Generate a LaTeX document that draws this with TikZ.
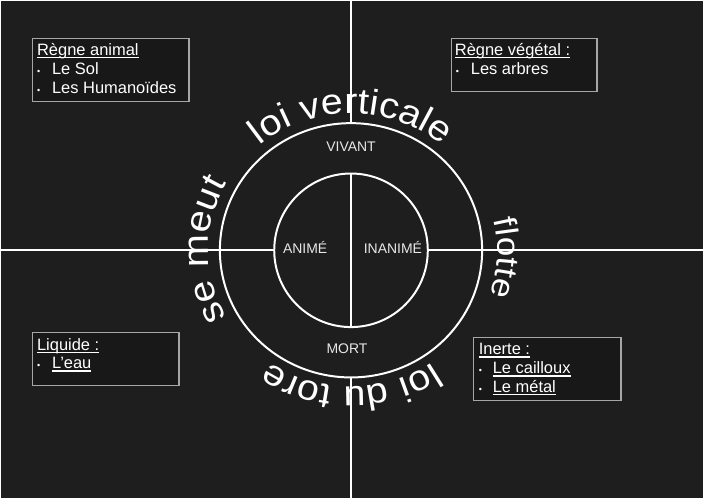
\documentclass[tikz,border=0pt]{standalone}
\usepackage{fontspec}
\setmainfont{Liberation Sans}
\newfontfamily\arcfont[FakeStretch=1.1]{Liberation Sans}
\usetikzlibrary{decorations.text,shapes.geometric}
\definecolor{bg}{HTML}{1E1E1E}
\definecolor{boxfill}{HTML}{181818}
\definecolor{boxline}{HTML}{A6A6A6}
\definecolor{lbl}{HTML}{E8E8E8}
\newcommand\myul[1]{\setbox0\hbox{#1}\rlap{\rule[-2.6pt]{\wd0}{1.1pt}}\box0}
\newcommand\bul{\makebox[15pt][l]{\fontsize{9}{9}\selectfont •}}
\tikzset{
  mainline/.style={draw=white, line width=2pt},
  infobox/.style={draw=boxline, fill=boxfill, line width=1.3pt, inner sep=0pt, anchor=north west},
  boxtext/.style={text=white, font=\fontsize{16.5}{16.5}\selectfont, inner sep=0pt, anchor=base west},
  zonelabel/.style={text=lbl, font=\fontsize{14}{14}\selectfont, inner sep=0pt, anchor=base},
}
\begin{document}
\begin{tikzpicture}[x=1pt,y=1pt]
\path[fill=bg] (0,0) rectangle (704,-498);
\coordinate (C) at (351,-250);
% circles
\node[mainline, ellipse, minimum width=263pt, minimum height=255pt, inner sep=0pt] (outer) at (C) {};
\node[mainline, circle, minimum size=154pt, inner sep=0pt] (inner) at (C) {};
% axis ends
\coordinate (topend) at (351,0);
\coordinate (botend) at (351,-498);
\coordinate (leftend) at (0,-250);
\coordinate (rightend) at (704,-250);
\draw[mainline] (topend) -- (outer.north);
\draw[mainline] (inner.north) -- (inner.south);
\draw[mainline] (outer.south) -- (botend);
\draw[mainline] (leftend) -- (inner.west);
\draw[mainline] (inner.east) -- (rightend);
% zone labels
\node[zonelabel] (vivant) at (351,-151) {VIVANT};
\node[zonelabel] (mort) at (347,-354) {MORT};
\node[zonelabel] (anime) at (305,-253) {ANIMÉ};
\node[zonelabel] (inanime) at (393,-253) {INANIMÉ};
% curved texts
\path[decorate, decoration={text along path, text align=center,
  text={|\arcfont\fontsize{36}{36}\selectfont\color{white}|loi verticale}}]
  (C) ++(160:143pt and 137pt) arc[start angle=160, end angle=20, x radius=143pt, y radius=137pt];
\path[decorate, decoration={text along path, text align=center,
  text={|\arcfont\fontsize{32}{32}\selectfont\color{white}|flotte}}]
  (C) ++(27:147pt and 137pt) arc[start angle=27, end angle=-33, x radius=147pt, y radius=137pt];
\path[decorate, decoration={text along path, text align=center,
  text={|\arcfont\fontsize{36}{36}\selectfont\color{white}|loi du tore}}]
  (C) ++(-10:143pt and 137pt) arc[start angle=-10, end angle=-170, x radius=143pt, y radius=137pt];
\path[decorate, decoration={text along path, text align=center,
  text={|\arcfont\fontsize{36}{36}\selectfont\color{white}|se meut}}]
  (C) ++(240:143pt and 137pt) arc[start angle=240, end angle=120, x radius=143pt, y radius=137pt];
% boxes
\node[infobox, minimum width=157pt, minimum height=63pt] (b1) at (31,-37) {};
\node[boxtext] (b1t) at (36,-55) {\myul{Règne animal}};
\node[boxtext] (b1a) at (36,-74) {\bul Le Sol};
\node[boxtext] (b1b) at (36,-93) {\bul Les Humanoïdes};
\node[infobox, minimum width=146pt, minimum height=53pt] (b2) at (451,-37) {};
\node[boxtext] (b2t) at (455,-55) {\myul{Règne végétal :}};
\node[boxtext] (b2a) at (456,-74) {\bul Les arbres};
\node[infobox, minimum width=147pt, minimum height=53pt] (b3) at (31,-332) {};
\node[boxtext] (b3t) at (36,-350) {\myul{Liquide :}};
\node[boxtext] (b3a) at (36,-369) {\bul\myul{L'eau}};
\node[infobox, minimum width=148pt, minimum height=63pt] (b4) at (473,-337) {};
\node[boxtext] (b4t) at (479,-355) {\myul{Inerte :}};
\node[boxtext] (b4a) at (479,-374) {\makebox[14pt][l]{\fontsize{9}{9}\selectfont •}\myul{Le cailloux}};
\node[boxtext] (b4b) at (479,-393) {\makebox[14pt][l]{\fontsize{9}{9}\selectfont •}\myul{Le métal}};
\end{tikzpicture}
\end{document}
